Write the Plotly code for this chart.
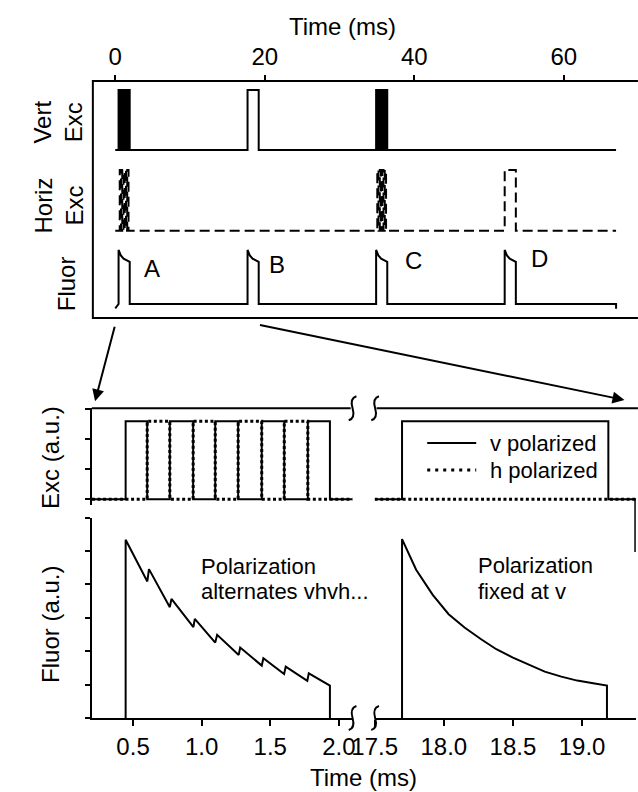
import plotly.graph_objects as go

W, H = 638, 792
FONT = "Liberation Sans, Arial, sans-serif"

# ---------------- data ----------------
# Overview panel (top), time in ms
burst_start_ms = [0.446, 17.70, 34.90, 52.10]          # bursts A, B, C, D
burst_mode = ["alt", "v", "alt", "h"]                  # alternating v/h, fixed v, alternating, fixed h
burst_labels = ["A", "B", "C", "D"]
overview_end_ms = 67.0
overview_ticks = [0, 20, 40, 60]

# Switching edges of the alternating v/h burst (ms)
alt_edges_ms = [0.446, 0.603, 0.768, 0.938, 1.099, 1.266, 1.438, 1.602, 1.774, 1.935]
# Fixed-polarization pulse (ms)
fixed_pulse_ms = [17.698, 19.19]
exc_level = 2.6

# Fluorescence with alternating polarization (ms, a.u.)
fluor_alt_t = [0.446, 0.446, 0.604, 0.616, 0.768, 0.780, 0.940, 0.950, 1.099, 1.113,
               1.270, 1.281, 1.438, 1.450, 1.601, 1.613, 1.770, 1.781, 1.935, 1.935]
fluor_alt_v = [0, 5.34, 4.09, 4.46, 3.32, 3.57, 2.72, 2.97, 2.26, 2.49,
               1.89, 2.11, 1.57, 1.79, 1.32, 1.54, 1.11, 1.34, 0.97, 0]

# Fluorescence with polarization fixed at v (ms, a.u.)
fluor_fix_t = [17.698, 17.698, 17.80, 17.92, 18.035, 18.15, 18.27, 18.38, 18.50,
               18.62, 18.73, 18.85, 18.965, 19.08, 19.18, 19.18]
fluor_fix_v = [0, 5.36, 4.44, 3.69, 3.11, 2.71, 2.36, 2.06, 1.81,
               1.59, 1.39, 1.24, 1.12, 1.04, 0.97, 0]

# Overview fluorescence pulse shape (fraction of burst duration, relative level)
ov_fluor_frac = [0.0, 0.0, 0.2, 0.45, 0.75, 1.0, 1.0]
ov_fluor_level = [0.0, 1.0, 0.90, 0.84, 0.80, 0.78, 0.0]
ov_fluor_lead_t = [0.0, 0.35]
ov_fluor_lead_v = [-0.08, 0.0]
ov_fluor_tail_v = -0.09

zoom_left_ticks = [0.5, 1.0, 1.5, 2.0]
zoom_right_ticks = [17.5, 18.0, 18.5, 19.0]
fluor_ticks = [0, 1, 2, 3, 4, 5, 6]
exc_ticks = [0, 1, 2, 3]


# ---------------- helpers ----------------
def px(x):
    return x / W


def py(y):
    return 1 - y / H


def square_wave(t0, t1, highs, level):
    xs, ys = [t0], [0]
    for a, b in highs:
        xs += [a, a, b, b]
        ys += [0, level, level, 0]
    xs.append(t1)
    ys.append(0)
    return xs, ys


fixed_dur = fixed_pulse_ms[1] - fixed_pulse_ms[0]
v_pairs = [(alt_edges_ms[i], alt_edges_ms[i + 1]) for i in range(0, len(alt_edges_ms) - 1, 2)]
h_pairs = [(alt_edges_ms[i], alt_edges_ms[i + 1]) for i in range(1, len(alt_edges_ms) - 1, 2)]

# overview highs
ov_v, ov_h, ov_fx, ov_fy = [], [], list(ov_fluor_lead_t), list(ov_fluor_lead_v)
for s, m in zip(burst_start_ms, burst_mode):
    off = s - alt_edges_ms[0]
    if m == "alt":
        ov_v += [(a + off, b + off) for a, b in v_pairs]
        ov_h += [(a + off, b + off) for a, b in h_pairs]
    elif m == "v":
        ov_v.append((s, s + fixed_dur))
    else:
        ov_h.append((s, s + fixed_dur))
    ov_fx += [s + f * fixed_dur for f in ov_fluor_frac]
    ov_fy += ov_fluor_level
ov_fx += [overview_end_ms, overview_end_ms]
ov_fy += [0, ov_fluor_tail_v]

vx, vy = square_wave(0.0, overview_end_ms, ov_v, 1)
hx, hy = square_wave(0.0, overview_end_ms, ov_h, 1)

fig = go.Figure()
BL = dict(color="black", width=2)

fig.add_trace(go.Scatter(x=vx, y=vy, mode="lines", line=BL, xaxis="x", yaxis="y"))
fig.add_trace(go.Scatter(x=hx, y=hy, mode="lines", line=dict(color="black", width=2, dash="10px,5px"),
                         xaxis="x", yaxis="y2"))
fig.add_trace(go.Scatter(x=ov_fx, y=ov_fy, mode="lines", line=BL, xaxis="x", yaxis="y3"))

# zoomed panel
XL = [0.2, 2.1]
XR = [17.5, 19.39]
DOT = dict(color="black", width=3, dash="3px,2.6px")
lvx, lvy = square_wave(XL[0], XL[1], v_pairs, exc_level)
lhx, lhy = square_wave(XL[0], XL[1], h_pairs, exc_level)
rvx, rvy = square_wave(XR[0], XR[1], [tuple(fixed_pulse_ms)], exc_level)
rhx, rhy = square_wave(XR[0], XR[1], [], exc_level)
fig.add_trace(go.Scatter(x=lvx, y=lvy, mode="lines", line=BL, xaxis="x2", yaxis="y4"))
fig.add_trace(go.Scatter(x=lhx, y=lhy, mode="lines", line=DOT, xaxis="x2", yaxis="y4"))
fig.add_trace(go.Scatter(x=rvx, y=rvy, mode="lines", line=BL, xaxis="x3", yaxis="y5"))
fig.add_trace(go.Scatter(x=rhx, y=rhy, mode="lines", line=DOT, xaxis="x3", yaxis="y5"))
fig.add_trace(go.Scatter(x=fluor_alt_t, y=fluor_alt_v, mode="lines", line=BL, xaxis="x2", yaxis="y6"))
fig.add_trace(go.Scatter(x=fluor_fix_t, y=fluor_fix_v, mode="lines", line=BL, xaxis="x3", yaxis="y7"))


def level_axis(low_px, high_px, pad=6):
    h = low_px - high_px
    p = pad / h
    return dict(domain=[py(low_px + pad), py(high_px - pad)], range=[-p, 1 + p],
                visible=False, anchor="x", fixedrange=True)


tick_common = dict(ticks="outside", ticklen=6, tickwidth=2, tickcolor="black",
                   showgrid=False, zeroline=False, linecolor="black", linewidth=2,
                   tickfont=dict(family=FONT, size=24, color="black"))

# top x axis: 0 ms at x=96 px, 7.78 px/ms, box left at 72.7 px
scale = 7.78
fig.update_layout(
    xaxis=dict(domain=[px(72.7), 1], range=[-(96 - 72.7) / scale, (638 - 96) / scale],
               anchor="free", position=py(81), side="top", showline=False,
               tickvals=overview_ticks, **tick_common),
    yaxis=level_axis(150, 90),
    yaxis2=level_axis(230.7, 170),
    yaxis3=level_axis(304, 250),
    xaxis2=dict(domain=[px(71.7), px(343)], range=XL, anchor="y6", showline=True,
                tickvals=zoom_left_ticks, ticktext=[f"{v:.1f}" for v in zoom_left_ticks], **tick_common),
    xaxis3=dict(domain=[px(366), 1], range=XR, anchor="y7", showline=True,
                tickvals=zoom_right_ticks, ticktext=[f"{v:.1f}" for v in zoom_right_ticks], **tick_common),
    yaxis4=dict(domain=[py(505), py(408.3)], range=[-0.19, 3.03], anchor="x2", showline=True,
                tickvals=exc_ticks, showticklabels=False, **{**tick_common, "ticklen": 5}),
    yaxis5=dict(domain=[py(505), py(408.3)], range=[-0.19, 3.03], anchor="x3", visible=False),
    yaxis6=dict(domain=[py(718), py(517.7)], range=[0, 6.0], anchor="x2", showline=True,
                tickvals=fluor_ticks, showticklabels=False, **{**tick_common, "ticklen": 5}),
    yaxis7=dict(domain=[py(718), py(517.7)], range=[0, 6.0], anchor="x3", visible=False),
)

shapes = []


def line(x0, y0, x1, y1, width=2, dash=None):
    d = dict(type="line", xref="paper", yref="paper", x0=px(x0), y0=py(y0), x1=px(x1), y1=py(y1),
             line=dict(color="black", width=width))
    if dash:
        d["line"]["dash"] = dash
    shapes.append(d)


# top box (open on the right, cut by the page edge)
line(72.7, 81, 640, 81)
line(72.7, 318, 640, 318)
line(72.7, 80, 72.7, 319)
# top line of zoomed panel, broken
line(71.7, 408.3, 341, 408.3)
line(368, 408.3, 640, 408.3)
# stub at right edge
line(637, 499, 637, 552, width=1.5)
# legend samples
line(420.7, 443, 471.7, 443)
line(420.7, 470, 471.7, 470, width=3, dash="3px,5px")


def brk(cx, cy):
    pts = [(cx + 4, cy - 12), (cx - 3, cy - 10), (cx, cy), (cx + 3, cy + 10), (cx - 4, cy + 12)]
    (a, b), (c, d), (e, f), (g, h), (i, j) = [(px(x), py(y)) for x, y in pts]
    path = f"M{a},{b} Q{c},{d} {e},{f} Q{g},{h} {i},{j}"
    shapes.append(dict(type="path", xref="paper", yref="paper", path=path,
                       line=dict(color="black", width=2)))


for cx in (343, 366.5):
    brk(cx, 408.3)
    brk(cx, 718)

ann = []


def text(t, x, y, size=24, angle=0, xanchor="center"):
    ann.append(dict(text=t, x=px(x), y=py(y), xref="paper", yref="paper", showarrow=False,
                    xanchor=xanchor, yanchor="middle", textangle=angle,
                    font=dict(family=FONT, size=size, color="black")))


text("Time (ms)", 332.6, 27)
text("Vert<br>Exc", 36, 122, angle=-90)
text("Horiz<br>Exc", 37, 206, angle=-90)
text("Fluor", 45, 284, angle=-90)
for lab, (lx, ly) in zip(burst_labels, [(134, 268), (264.4, 265), (406.8, 260), (537.8, 258.3)]):
    text(lab, lx, ly)
text("Exc (a.u.)", 28, 457, angle=-90)
text("Fluor (a.u.)", 28, 624, angle=-90)
text("Polarization", 183, 566.7, size=22, xanchor="left")
text("alternates vhvh...", 183, 591.7, size=22, xanchor="left")
text("Polarization", 471, 565.7, size=22, xanchor="left")
text("fixed at v", 471, 591, size=22, xanchor="left")
text("v polarized", 484, 443, size=22, xanchor="left")
text("h polarized", 484, 470, size=22, xanchor="left")
text("Time (ms)", 354, 777)

# arrows
for (hx_, hy_), (tx_, ty_) in [((75, 401.3), (95, 325.3)), ((626, 400), (260, 324.7))]:
    ann.append(dict(text="", x=px(hx_), y=py(hy_), xref="paper", yref="paper",
                    ax=tx_ - hx_, ay=ty_ - hy_, axref="pixel", ayref="pixel",
                    showarrow=True, arrowhead=2, arrowsize=1.2, arrowwidth=2, arrowcolor="black"))

fig.update_layout(width=W, height=H, margin=dict(l=0, r=0, t=0, b=0),
                  paper_bgcolor="white", plot_bgcolor="white", showlegend=False,
                  shapes=shapes, annotations=ann,
                  font=dict(family=FONT, size=24, color="black"))

fig.write_html("out.html")
